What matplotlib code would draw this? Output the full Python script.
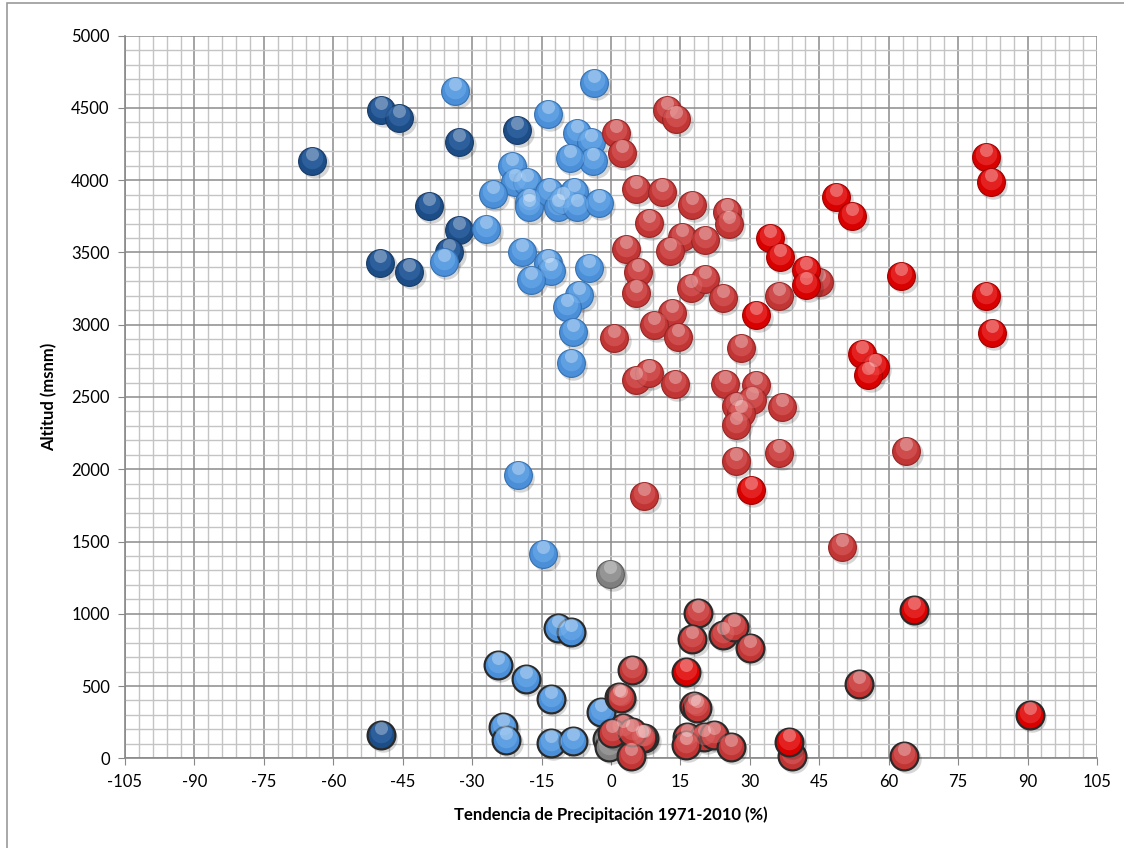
import matplotlib.pyplot as plt
import matplotlib.transforms as mtransforms
from matplotlib.patches import Rectangle
from matplotlib.ticker import MultipleLocator
import numpy as np

plt.rcParams['font.family'] = ['Lato', 'DejaVu Sans']
plt.rcParams['axes.unicode_minus'] = False

# dark blue series
dblue_x = [-64.5, -49.6, -45.7, -32.8, -20.3, -39.4, -32.9, -34.9, -49.8, -43.6, -49.7]
dblue_y = [4135, 4485, 4430, 4265, 4350, 3825, 3655, 3500, 3430, 3365, 160]

# light blue series
lblue_x = [-33.6, -3.7, -13.7, -7.4, -4.3, -3.8, -8.9, -21.4, -20.7, -18.2, -25.6,
           -17.8, -17.7, -13.3, -11.5, -10.3, -7.9, -7.4, -2.7, -27.0, -36.1, -19.2,
           -13.7, -13.0, -17.3, -4.7, -6.9, -9.4, -8.3, -8.7, -20.1, -14.6,
           -11.5, -8.7, -24.5, -18.4, -13.0, -23.3, -22.6, -13.0, -8.2, -2.2]
lblue_y = [4615, 4670, 4460, 4330, 4265, 4130, 4155, 4095, 3985, 3985, 3905,
           3850, 3815, 3920, 3815, 3865, 3920, 3815, 3840, 3665, 3435, 3505,
           3425, 3370, 3310, 3390, 3205, 3120, 2950, 2735, 1960, 1415,
           900, 876, 646, 547, 408, 214, 127, 108, 122, 322]

# gray series
gray_x = [-0.2, -0.8, -0.4]
gray_y = [1275, 135, 80]

# light red series
lred_x = [12.2, 14.1, 1.0, 2.3, 5.4, 11.0, 17.6, 25.1, 25.4, 8.2, 15.4, 20.3, 3.2,
          12.7, 5.9, 5.4, 17.2, 20.3, 24.1, 36.3, 44.9, 13.2, 9.3, 0.7, 14.4, 28.0,
          5.4, 8.2, 13.8, 24.6, 31.3, 27.0, 30.5, 28.0, 27.0, 37.0, 27.0, 36.3, 7.2,
          63.8, 49.9, 53.5, 63.3,
          18.9, 17.5, 24.1, 26.6, 30.0, 17.9, 18.6, 16.5, 20.1, 22.3, 16.2, 25.9,
          7.2, 4.6, 1.8, 2.1, 2.5, 6.8, 4.3, 0.3, 4.6, 39.1]
lred_y = [4488, 4425, 4329, 4186, 3939, 3921, 3829, 3780, 3700, 3702, 3609, 3586, 3522,
          3510, 3367, 3218, 3252, 3314, 3183, 3199, 3298, 3080, 3000, 2906, 2913, 2837,
          2618, 2668, 2590, 2590, 2583, 2438, 2479, 2387, 2306, 2429, 2059, 2115, 1815,
          2123, 1460, 513, 15,
          1003, 823, 853, 911, 761, 362, 346, 150, 150, 161, 92, 80,
          138, 611, 426, 420, 208, 138, 15, 173, 184, 15]

# bright red series
red_x = [34.4, 36.6, 42.2, 42.2, 31.4, 30.2, 48.7, 52.1, 81.0, 82.0, 62.7, 81.0,
         82.3, 54.2, 57.0, 55.6, 65.4, 90.5, 16.3, 38.5]
red_y = [3600, 3470, 3380, 3275, 3065, 1857, 3886, 3752, 4163, 3990, 3337, 3199,
         2941, 2795, 2710, 2655, 1027, 300, 599, 115]

xticks = np.arange(-105, 106, 15)
yticks = np.arange(0, 5001, 500)

fig = plt.figure(figsize=(11.24, 8.48), dpi=100)
ax = fig.add_axes([0.1112, 0.1058, 0.8648, 0.8521])

# outer chart frame
fig.patches.append(Rectangle((7 / 1124, -0.02), 1.1, 1.02 - 3 / 848, transform=fig.transFigure,
                             fill=False, edgecolor='#9a9a9a', lw=1.2, zorder=0))

ax.set_xlim(-105, 105)
ax.set_ylim(0, 5000)
ax.set_xticks(xticks)
ax.set_yticks(yticks)
ax.xaxis.set_minor_locator(MultipleLocator(3))
ax.yaxis.set_minor_locator(MultipleLocator(100))
ax.grid(which='minor', color='#c4c4c4', lw=1.0, zorder=0)
ax.grid(which='major', color='#8c8c8c', lw=1.1, zorder=0)
ax.set_axisbelow(True)
ax.tick_params(which='minor', length=0)
ax.tick_params(which='major', direction='out', length=5, color='#888888',
               labelsize=12, pad=6)
for s in ['top', 'right']:
    ax.spines[s].set_visible(False)
for s in ['left', 'bottom']:
    ax.spines[s].set_color('#888888')
    ax.spines[s].set_linewidth(1.2)

ax.set_xlabel('Tendencia de Precipitación 1971-2010 (%)', fontsize=12, fontweight='bold',
              labelpad=12)
ax.set_ylabel('Altitud (msnm)', fontsize=12, fontweight='bold', labelpad=10)

S = 400
shadow_tr = mtransforms.offset_copy(ax.transData, fig=fig, x=2.5, y=-3, units='dots')
hl1_tr = mtransforms.offset_copy(ax.transData, fig=fig, x=0, y=3, units='dots')
hl2_tr = mtransforms.offset_copy(ax.transData, fig=fig, x=0, y=7, units='dots')


def balls(xs, ys, base, light, rim, z):
    xs = np.asarray(xs, float)
    ys = np.asarray(ys, float)
    low = ys < 1100
    ax.scatter(xs, ys, s=S * 1.05, color='#000000', alpha=0.16, lw=0,
               transform=shadow_tr, zorder=z, clip_on=False)
    for mask, ec, lw in [(~low, rim, 0.8), (low, '#2a2a2a', 1.6)]:
        if not mask.any():
            continue
        ax.scatter(xs[mask], ys[mask], s=S, color=base, edgecolors=ec, linewidths=lw,
                   zorder=z + 0.1, clip_on=False)
        ax.scatter(xs[mask], ys[mask], s=S * 0.6, color=light, alpha=0.45, lw=0,
                   transform=hl1_tr, zorder=z + 0.2, clip_on=False)
        ax.scatter(xs[mask], ys[mask], s=S * 0.22, color='white', alpha=0.3, lw=0,
                   transform=hl2_tr, zorder=z + 0.3, clip_on=False)


balls(dblue_x, dblue_y, '#1d4d86', '#3f75b8', '#163b68', 3)
balls(lblue_x, lblue_y, '#4a8fd8', '#7ab6f0', '#3570b0', 4)
balls(gray_x, gray_y, '#7f7f7f', '#b0b0b0', '#5c5c5c', 5)
balls(lred_x, lred_y, '#c23535', '#de6a6a', '#952525', 6)
balls(red_x, red_y, '#d90000', '#f24a4a', '#a00000', 7)

fig.savefig('out.png', dpi=100)
